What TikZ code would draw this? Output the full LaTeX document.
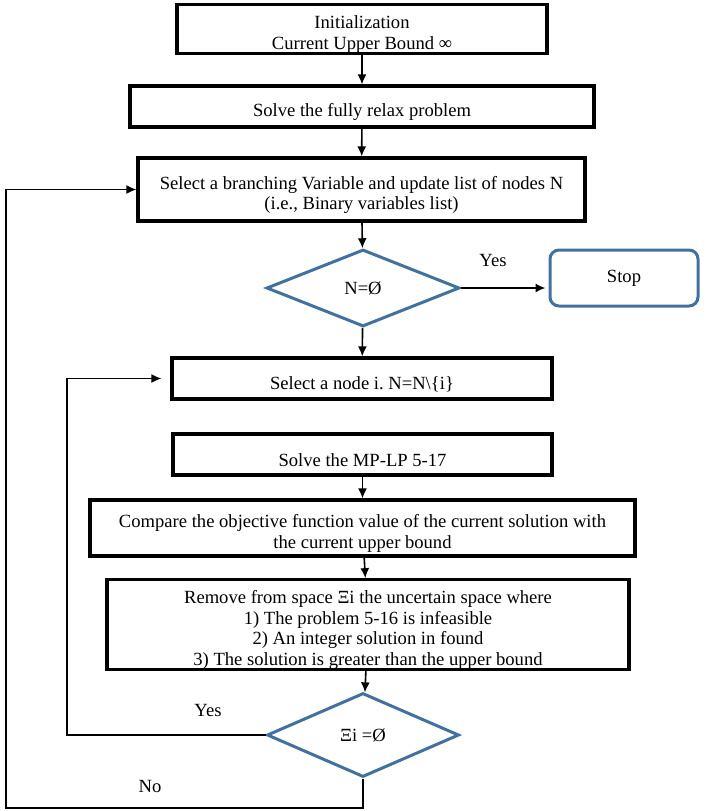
\documentclass[tikz,border=0pt]{standalone}
\usepackage{fontspec}
\setmainfont{Liberation Serif}
\usepackage{tikz}
\usetikzlibrary{arrows.meta, shapes.geometric}
\definecolor{stepblue}{RGB}{65,113,156}
\newcommand{\lift}{\rule{0pt}{24pt}}
\frenchspacing

\begin{document}
\begin{tikzpicture}[x=1pt, y=-1pt,
			->,
			>={Latex[length=10pt, width=9pt]},
			line width=1.6pt,
			font=\fontsize{18.6}{20.5}\selectfont,
			box/.style={draw=black, line width=3.2pt, align=center, inner sep=0pt},
			test/.style={diamond, draw=stepblue, line width=3pt, inner sep=0pt},
			stopbox/.style={draw=stepblue, line width=3pt, rounded corners=9pt, inner sep=0pt}]

			\useasboundingbox (0,0) rectangle (709,811);

			% boxes
			\node[box, minimum width=370pt, minimum height=46pt] (init) at (362,29) {\lift Initialization\\Current Upper Bound ∞};
			\node[box, minimum width=464pt, minimum height=41pt] (relax) at (362,106.5) {\lift Solve the fully relax problem};
			\node[box, minimum width=447pt, minimum height=63pt] (branch) at (361.5,189.5) {\lift Select a branching Variable and update list of nodes N\\(i.e., Binary variables list)};
			\node[test, minimum width=193pt, minimum height=77pt] (empty) at (363,288) {N=Ø};
			\node[stopbox, minimum width=148pt, minimum height=56pt] (stop) at (624,278) {Stop};
			\node[box, minimum width=380pt, minimum height=41pt] (pick) at (362,378.5) {\lift Select a node i. N=N\textbackslash\{i\}};
			\node[box, minimum width=379pt, minimum height=41pt] (mplp) at (362.5,454.5) {\lift Solve the MP-LP 5-17};
			\node[box, minimum width=545pt, minimum height=56pt] (compare) at (362.5,528) {\lift Compare the objective function value of the current solution with\\the current upper bound};
			\node[box, minimum width=522pt, minimum height=87pt] (remove) at (368,624.5) {\lift Remove from space Ξi the uncertain space where\\1) The problem 5-16 is infeasible\\2) An integer solution in found\\3) The solution is greater than the upper bound};
			\node[test, minimum width=192pt, minimum height=84pt] (space) at (363,735) {Ξi =Ø};

			\coordinate (yesturn) at (67,735);
			\coordinate (noturn) at (6,808);

			% connectors
			\draw (init) -- (relax);
			\draw (relax) -- (branch);
			\draw (branch) -- (empty);
			\draw[shorten >=3pt] (empty.east) -- (empty.east -| stop.west);
			\draw (empty) -- (pick);
			\draw (mplp) -- (compare);
			\draw (compare) -- (remove);
			\draw (remove) -- (space);
			\draw[shorten >=9pt] (space.west) -- (yesturn) |- (pick.west);
			\draw (space.south) |- (noturn) |- (branch.west);

			% answers
			\node (yesstop) at (493,260) {Yes};
			\node (yesback) at (208,710) {Yes};
			\node (noback) at (150,786) {No};
		\end{tikzpicture}
\end{document}
